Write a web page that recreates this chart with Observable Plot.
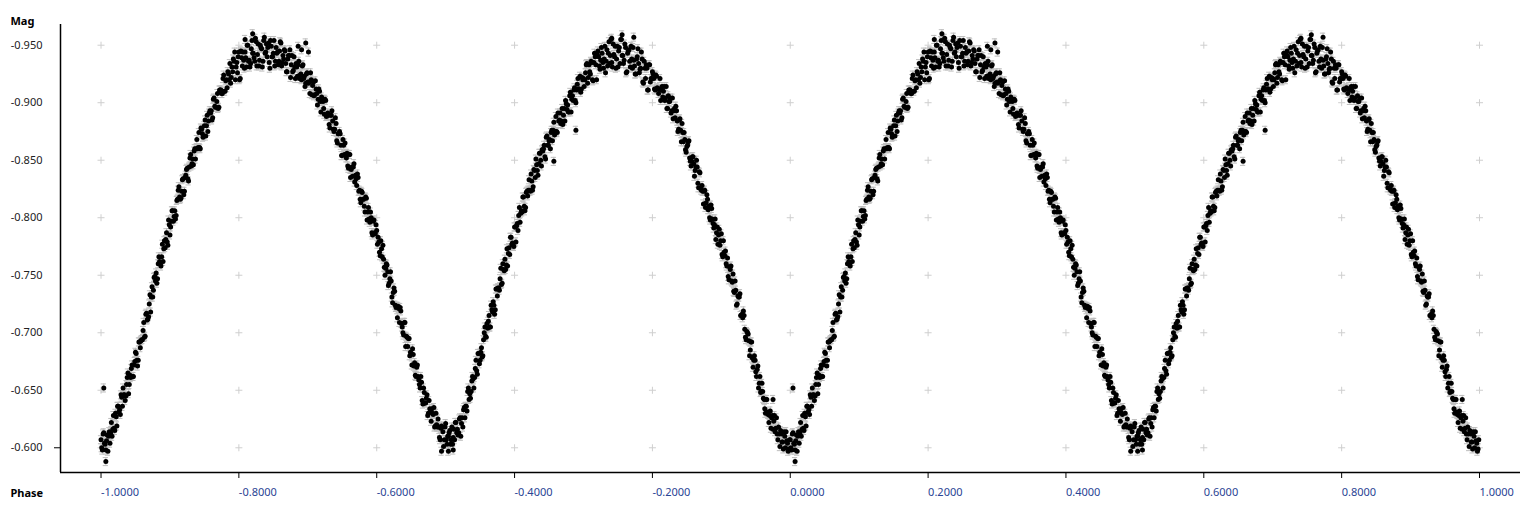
<!DOCTYPE html>
<html><head><meta charset="utf-8">
<script src="https://cdn.jsdelivr.net/npm/d3@7"></script>
<script src="https://cdn.jsdelivr.net/npm/@observablehq/plot@0.6"></script>
<style>html,body{margin:0;padding:0;background:#fff}#chart svg{display:block}</style>
</head><body><div id="chart"></div>
<script>
// Axis ticks
const xTicks = [-1, -0.8, -0.6, -0.4, -0.2, 0, 0.2, 0.4, 0.6, 0.8, 1];
const yTicks = [-0.95, -0.9, -0.85, -0.8, -0.75, -0.7, -0.65, -0.6];
const magError = 0.0035;

// Phase-folded observations [phase, magnitude], phase 0..1 (plotted again at phase-1)
const minimumI = [[0.964,-0.630],[0.966,-0.642],[0.968,-0.629],[0.970,-0.628],[0.972,-0.617],[0.974,-0.628],[0.976,-0.623],[0.978,-0.614],[0.980,-0.626],[0.982,-0.607],[0.984,-0.612],[0.986,-0.615],[0.988,-0.605],[0.990,-0.599],[0.992,-0.610],[0.994,-0.614],[0.996,-0.604],[0.998,-0.599],
[0.000,-0.607],[0.002,-0.598],[0.004,-0.613],[0.006,-0.603],[0.008,-0.606],[0.010,-0.597],[0.012,-0.614],[0.014,-0.613],[0.016,-0.610],
[0.001,-0.600],[0.003,-0.612],[0.005,-0.604],[0.007,-0.598],[0.009,-0.611],[0.011,-0.610],[0.013,-0.604],[0.015,-0.622],
[0.965,-0.642],[0.967,-0.631],[0.969,-0.622],[0.971,-0.632],[0.973,-0.626],[0.975,-0.616],[0.977,-0.628],[0.979,-0.617],[0.981,-0.612],[0.983,-0.618],[0.985,-0.601],[0.987,-0.612],[0.989,-0.605],[0.991,-0.614],[0.993,-0.600],[0.995,-0.606],[0.997,-0.597],[0.999,-0.607]];

const risingI = [[0.018,-0.628],[0.020,-0.615],[0.022,-0.627],[0.024,-0.636],[0.026,-0.631],[0.028,-0.629],[0.030,-0.644],[0.032,-0.652],[0.034,-0.646],[0.036,-0.645],
[0.038,-0.661],[0.040,-0.647],[0.042,-0.663],[0.044,-0.669],[0.046,-0.662],[0.048,-0.672],[0.050,-0.683],[0.052,-0.676],[0.054,-0.676],[0.056,-0.692],[0.058,-0.693],[0.060,-0.694],[0.062,-0.709],
[0.064,-0.697],[0.066,-0.717],[0.068,-0.712],[0.070,-0.725],[0.072,-0.718],[0.074,-0.740],[0.076,-0.737],[0.078,-0.749],[0.080,-0.752],
[0.082,-0.747],[0.084,-0.766],[0.086,-0.760],[0.088,-0.766],[0.090,-0.762],[0.092,-0.780],[0.094,-0.781],[0.096,-0.779],[0.098,-0.798],[0.100,-0.785],[0.102,-0.797],[0.104,-0.806],
[0.106,-0.801],[0.108,-0.799],[0.110,-0.815],[0.112,-0.824],[0.114,-0.818],[0.116,-0.817],[0.118,-0.833],[0.120,-0.820],[0.122,-0.835],[0.124,-0.842],[0.126,-0.834],[0.128,-0.844],[0.130,-0.855],
[0.132,-0.847],[0.134,-0.846],[0.136,-0.860],[0.138,-0.860],[0.140,-0.860],[0.142,-0.874],[0.144,-0.860],[0.146,-0.877],[0.148,-0.870],[0.150,-0.880],[0.152,-0.871],[0.154,-0.889],[0.156,-0.884],[0.158,-0.893],[0.160,-0.893],[0.162,-0.887],[0.164,-0.904],[0.166,-0.896],
[0.168,-0.901],[0.170,-0.895],[0.172,-0.911],[0.174,-0.911],[0.176,-0.908],[0.178,-0.924],[0.180,-0.910],[0.182,-0.920],[0.184,-0.927],[0.186,-0.920],[0.188,-0.917],[0.190,-0.931],[0.192,-0.938],
[0.017,-0.616],[0.019,-0.617],[0.021,-0.630],[0.023,-0.619],[0.025,-0.636],[0.027,-0.633],[0.029,-0.646],[0.031,-0.636],[0.033,-0.646],[0.035,-0.641],
[0.037,-0.655],[0.039,-0.665],[0.041,-0.655],[0.043,-0.661],[0.045,-0.672],[0.047,-0.662],[0.049,-0.675],[0.051,-0.682],[0.053,-0.671],[0.055,-0.692],[0.057,-0.687],[0.059,-0.694],[0.061,-0.702],[0.063,-0.696],
[0.065,-0.716],[0.067,-0.711],[0.069,-0.714],[0.071,-0.733],[0.073,-0.731],[0.075,-0.731],[0.077,-0.748],[0.079,-0.745],[0.081,-0.743],
[0.083,-0.760],[0.085,-0.762],[0.087,-0.758],[0.089,-0.777],[0.091,-0.773],[0.093,-0.774],[0.095,-0.787],[0.097,-0.776],[0.099,-0.794],[0.101,-0.792],[0.103,-0.806],[0.105,-0.797],
[0.107,-0.806],[0.109,-0.802],[0.111,-0.816],[0.113,-0.827],[0.115,-0.816],[0.117,-0.823],[0.119,-0.834],[0.121,-0.823],[0.123,-0.837],[0.125,-0.843],[0.127,-0.832],[0.129,-0.852],[0.131,-0.845],
[0.133,-0.851],[0.135,-0.858],[0.137,-0.851],[0.139,-0.868],[0.141,-0.861],[0.143,-0.861],[0.145,-0.878],[0.147,-0.873],[0.149,-0.871],[0.151,-0.885],[0.153,-0.880],[0.155,-0.875],[0.157,-0.891],[0.159,-0.891],[0.161,-0.885],[0.163,-0.903],[0.165,-0.897],[0.167,-0.896],
[0.169,-0.908],[0.171,-0.896],[0.173,-0.911],[0.175,-0.908],[0.177,-0.921],[0.179,-0.910],[0.181,-0.919],[0.183,-0.913],[0.185,-0.925],[0.187,-0.934],[0.189,-0.922],[0.191,-0.927],[0.193,-0.936]];

const maximumI = [[0.194,-0.944],[0.196,-0.931],[0.198,-0.926],[0.200,-0.944],[0.202,-0.921],[0.204,-0.939],[0.206,-0.944],[0.208,-0.930],[0.210,-0.939],[0.212,-0.950],[0.214,-0.936],[0.216,-0.931],[0.218,-0.947],[0.220,-0.943],[0.222,-0.939],[0.224,-0.956],[0.226,-0.932],[0.228,-0.951],[0.230,-0.937],[0.232,-0.948],[0.234,-0.931],[0.236,-0.954],[0.238,-0.943],[0.240,-0.951],[0.242,-0.948],[0.244,-0.935],[0.246,-0.954],[0.248,-0.940],[0.250,-0.943],
[0.252,-0.932],[0.254,-0.948],[0.256,-0.944],[0.258,-0.936],[0.260,-0.953],[0.262,-0.932],[0.264,-0.941],[0.266,-0.946],[0.268,-0.934],[0.270,-0.927],[0.272,-0.941],[0.274,-0.946],[0.276,-0.933],[0.278,-0.927],[0.280,-0.940],
[0.195,-0.920],[0.197,-0.935],[0.199,-0.940],[0.201,-0.920],[0.203,-0.945],[0.205,-0.932],[0.207,-0.937],[0.209,-0.944],[0.211,-0.931],[0.213,-0.950],[0.215,-0.937],[0.217,-0.934],[0.219,-0.954],[0.221,-0.943],[0.223,-0.936],[0.225,-0.953],[0.227,-0.942],[0.229,-0.932],[0.231,-0.950],[0.233,-0.947],[0.235,-0.936],[0.237,-0.957],[0.239,-0.944],[0.241,-0.940],[0.243,-0.952],[0.245,-0.930],[0.247,-0.949],[0.249,-0.940],[0.251,-0.954],
[0.253,-0.936],[0.255,-0.943],[0.257,-0.933],[0.259,-0.945],[0.261,-0.952],[0.263,-0.935],[0.265,-0.938],[0.267,-0.945],[0.269,-0.927],[0.271,-0.938],[0.273,-0.941],[0.275,-0.922],[0.277,-0.941],[0.279,-0.928],[0.281,-0.931]];

const fallingI = [[0.282,-0.921],[0.284,-0.931],[0.286,-0.933],[0.288,-0.921],[0.290,-0.925],[0.292,-0.932],[0.294,-0.921],[0.296,-0.914],[0.298,-0.925],[0.300,-0.918],[0.302,-0.918],[0.304,-0.926],[0.306,-0.907],[0.308,-0.918],[0.310,-0.907],[0.312,-0.912],
[0.314,-0.898],[0.316,-0.912],[0.318,-0.901],[0.320,-0.905],[0.322,-0.901],[0.324,-0.890],[0.326,-0.902],[0.328,-0.889],[0.330,-0.889],[0.332,-0.878],[0.334,-0.889],[0.336,-0.884],[0.338,-0.875],[0.340,-0.887],[0.342,-0.867],[0.344,-0.873],[0.346,-0.875],[0.348,-0.863],[0.350,-0.854],[0.352,-0.863],[0.354,-0.865],[0.356,-0.852],
[0.358,-0.845],[0.360,-0.855],[0.362,-0.835],[0.364,-0.844],[0.366,-0.844],[0.368,-0.831],[0.370,-0.834],[0.372,-0.838],[0.374,-0.823],[0.376,-0.816],[0.378,-0.823],[0.380,-0.816],[0.382,-0.810],[0.384,-0.818],[0.386,-0.798],[0.388,-0.809],[0.390,-0.796],[0.392,-0.800],[0.394,-0.785],[0.396,-0.798],[0.398,-0.786],[0.400,-0.789],[0.402,-0.783],
[0.404,-0.770],[0.406,-0.780],[0.408,-0.766],[0.410,-0.764],[0.412,-0.750],[0.414,-0.760],[0.416,-0.753],[0.418,-0.743],[0.420,-0.753],[0.422,-0.731],[0.424,-0.735],[0.426,-0.736],[0.428,-0.722],[0.430,-0.713],[0.432,-0.721],[0.434,-0.722],[0.436,-0.708],[0.438,-0.700],[0.440,-0.709],[0.442,-0.688],[0.444,-0.696],[0.446,-0.695],[0.448,-0.680],[0.450,-0.682],[0.452,-0.686],
[0.454,-0.671],[0.456,-0.663],[0.458,-0.670],[0.460,-0.662],[0.462,-0.655],[0.464,-0.662],[0.466,-0.641],[0.468,-0.652],[0.470,-0.639],[0.472,-0.643],[0.474,-0.628],[0.476,-0.641],[0.478,-0.631],[0.480,-0.634],[0.482,-0.629],[0.484,-0.618],[0.486,-0.630],[0.488,-0.618],[0.490,-0.618],[0.492,-0.607],[0.494,-0.619],[0.496,-0.614],
[0.283,-0.934],[0.285,-0.923],[0.287,-0.936],[0.289,-0.924],[0.291,-0.920],[0.293,-0.933],[0.295,-0.923],[0.297,-0.917],[0.299,-0.926],[0.301,-0.917],[0.303,-0.908],[0.305,-0.920],[0.307,-0.915],[0.309,-0.906],[0.311,-0.919],[0.313,-0.908],
[0.315,-0.903],[0.317,-0.910],[0.319,-0.892],[0.321,-0.903],[0.323,-0.895],[0.325,-0.903],[0.327,-0.888],[0.329,-0.891],[0.331,-0.881],[0.333,-0.889],[0.335,-0.893],[0.337,-0.877],[0.339,-0.877],[0.341,-0.882],[0.343,-0.865],[0.345,-0.873],[0.347,-0.873],[0.349,-0.854],[0.351,-0.868],[0.353,-0.855],[0.355,-0.855],[0.357,-0.856],
[0.359,-0.843],[0.361,-0.855],[0.363,-0.842],[0.365,-0.836],[0.367,-0.847],[0.369,-0.837],[0.371,-0.828],[0.373,-0.835],[0.375,-0.824],[0.377,-0.813],[0.379,-0.822],[0.381,-0.816],[0.383,-0.805],[0.385,-0.817],[0.387,-0.805],[0.389,-0.799],[0.391,-0.805],[0.393,-0.787],[0.395,-0.797],[0.397,-0.787],[0.399,-0.794],[0.401,-0.777],[0.403,-0.779],
[0.405,-0.767],[0.407,-0.773],[0.409,-0.776],[0.411,-0.757],[0.413,-0.756],[0.415,-0.759],[0.417,-0.741],[0.419,-0.747],[0.421,-0.745],[0.423,-0.726],[0.425,-0.739],[0.427,-0.724],[0.429,-0.723],[0.431,-0.723],[0.433,-0.709],[0.435,-0.719],[0.437,-0.705],[0.439,-0.698],[0.441,-0.709],[0.443,-0.697],[0.445,-0.688],[0.447,-0.695],[0.449,-0.683],[0.451,-0.672],[0.453,-0.681],
[0.455,-0.674],[0.457,-0.662],[0.459,-0.672],[0.461,-0.659],[0.463,-0.652],[0.465,-0.657],[0.467,-0.638],[0.469,-0.648],[0.471,-0.639],[0.473,-0.646],[0.475,-0.630],[0.477,-0.634],[0.479,-0.623],[0.481,-0.630],[0.483,-0.635],[0.485,-0.619],[0.487,-0.620],[0.489,-0.625],[0.491,-0.609],[0.493,-0.617],[0.495,-0.618],[0.497,-0.601]];

const minimumII = [[0.498,-0.607],[0.500,-0.621],[0.502,-0.603],[0.504,-0.610],[0.506,-0.615],[0.508,-0.607],[0.510,-0.603],[0.512,-0.616],[0.514,-0.622],[0.516,-0.613],[0.518,-0.611],[0.520,-0.625],[0.522,-0.610],[0.524,-0.626],[0.526,-0.633],[0.528,-0.626],[0.530,-0.636],
[0.499,-0.618],[0.501,-0.607],[0.503,-0.610],[0.505,-0.613],[0.507,-0.603],[0.509,-0.618],[0.511,-0.609],[0.513,-0.607],[0.515,-0.622],[0.517,-0.616],[0.519,-0.613],[0.521,-0.626],[0.523,-0.621],[0.525,-0.618],[0.527,-0.635],[0.529,-0.636],[0.531,-0.632]];

const risingII = [[0.532,-0.649],[0.534,-0.642],[0.536,-0.643],[0.538,-0.658],[0.540,-0.660],[0.542,-0.661],[0.544,-0.676],[0.546,-0.664],[0.548,-0.682],[0.550,-0.676],[0.552,-0.687],[0.554,-0.680],[0.556,-0.700],[0.558,-0.697],[0.560,-0.708],[0.562,-0.710],[0.564,-0.705],[0.566,-0.724],[0.568,-0.718],[0.570,-0.724],[0.572,-0.720],[0.574,-0.738],[0.576,-0.739],[0.578,-0.737],[0.580,-0.756],[0.582,-0.743],[0.584,-0.755],[0.586,-0.764],[0.588,-0.759],[0.590,-0.758],[0.592,-0.774],[0.594,-0.783],[0.596,-0.777],[0.598,-0.776],[0.600,-0.792],[0.602,-0.779],
[0.604,-0.795],[0.606,-0.802],[0.608,-0.796],[0.610,-0.806],[0.612,-0.818],[0.614,-0.810],[0.616,-0.809],[0.618,-0.823],[0.620,-0.824],[0.622,-0.824],[0.624,-0.838],[0.626,-0.824],[0.628,-0.842],[0.630,-0.835],[0.632,-0.846],[0.634,-0.837],[0.636,-0.856],[0.638,-0.850],[0.640,-0.859],[0.642,-0.860],[0.644,-0.853],[0.646,-0.870],[0.648,-0.863],[0.650,-0.867],[0.652,-0.860],[0.654,-0.876],[0.656,-0.876],[0.658,-0.872],[0.660,-0.888],[0.662,-0.874],
[0.664,-0.884],[0.666,-0.891],[0.668,-0.884],[0.670,-0.881],[0.672,-0.895],[0.674,-0.902],[0.676,-0.894],[0.678,-0.892],[0.680,-0.906],[0.682,-0.892],[0.684,-0.906],[0.686,-0.911],[0.688,-0.902],[0.690,-0.911],[0.692,-0.921],[0.694,-0.912],[0.696,-0.909],[0.698,-0.922],[0.700,-0.921],[0.702,-0.920],[0.704,-0.933],[0.706,-0.917],[0.708,-0.933],[0.710,-0.925],
[0.533,-0.652],[0.535,-0.647],[0.537,-0.649],[0.539,-0.662],[0.541,-0.652],[0.543,-0.669],[0.545,-0.667],[0.547,-0.682],[0.549,-0.673],[0.551,-0.683],[0.553,-0.679],[0.555,-0.694],[0.557,-0.705],[0.559,-0.696],[0.561,-0.704],[0.563,-0.715],[0.565,-0.705],[0.567,-0.720],[0.569,-0.727],[0.571,-0.716],[0.573,-0.738],[0.575,-0.732],[0.577,-0.739],[0.579,-0.747],[0.581,-0.742],[0.583,-0.760],[0.585,-0.754],[0.587,-0.755],[0.589,-0.773],[0.591,-0.769],[0.593,-0.768],[0.595,-0.783],[0.597,-0.778],[0.599,-0.775],[0.601,-0.792],[0.603,-0.793],
[0.605,-0.789],[0.607,-0.809],[0.609,-0.804],[0.611,-0.805],[0.613,-0.818],[0.615,-0.806],[0.617,-0.822],[0.619,-0.819],[0.621,-0.833],[0.623,-0.823],[0.625,-0.832],[0.627,-0.827],[0.629,-0.841],[0.631,-0.851],[0.633,-0.841],[0.635,-0.847],[0.637,-0.856],[0.639,-0.845],[0.641,-0.858],[0.643,-0.863],[0.645,-0.851],[0.647,-0.871],[0.649,-0.863],[0.651,-0.868],[0.653,-0.874],[0.655,-0.867],[0.657,-0.883],[0.659,-0.875],[0.661,-0.875],[0.663,-0.891],
[0.665,-0.885],[0.667,-0.882],[0.669,-0.895],[0.671,-0.889],[0.673,-0.884],[0.675,-0.899],[0.677,-0.898],[0.679,-0.892],[0.681,-0.909],[0.683,-0.903],[0.685,-0.902],[0.687,-0.913],[0.689,-0.900],[0.691,-0.916],[0.693,-0.912],[0.695,-0.923],[0.697,-0.912],[0.699,-0.920],[0.701,-0.914],[0.703,-0.926],[0.705,-0.934],[0.707,-0.922],[0.709,-0.927],[0.711,-0.936]];

const maximumII = [[0.712,-0.935],[0.714,-0.919],[0.716,-0.943],[0.718,-0.933],[0.720,-0.942],[0.722,-0.940],[0.724,-0.929],[0.726,-0.948],[0.728,-0.935],[0.730,-0.938],[0.732,-0.926],[0.734,-0.946],[0.736,-0.943],[0.738,-0.934],[0.740,-0.955],[0.742,-0.931],[0.744,-0.942],[0.746,-0.949],[0.748,-0.938],[0.750,-0.931],[0.752,-0.948],[0.754,-0.955],[0.756,-0.941],[0.758,-0.934],[0.760,-0.951],[0.762,-0.926],[0.764,-0.943],[0.766,-0.946],[0.768,-0.931],[0.770,-0.938],[0.772,-0.948],[0.774,-0.932],[0.776,-0.925],[0.778,-0.940],[0.780,-0.934],[0.782,-0.929],[0.784,-0.944],[0.786,-0.918],[0.788,-0.936],[0.790,-0.921],[0.792,-0.930],[0.794,-0.911],[0.796,-0.933],[0.798,-0.921],[0.800,-0.927],
[0.713,-0.920],[0.715,-0.935],[0.717,-0.940],[0.719,-0.920],[0.721,-0.945],[0.723,-0.932],[0.725,-0.937],[0.727,-0.943],[0.729,-0.930],[0.731,-0.949],[0.733,-0.936],[0.735,-0.932],[0.737,-0.953],[0.739,-0.941],[0.741,-0.935],[0.743,-0.951],[0.745,-0.940],[0.747,-0.930],[0.749,-0.949],[0.751,-0.945],[0.753,-0.934],[0.755,-0.955],[0.757,-0.941],[0.759,-0.937],[0.761,-0.948],[0.763,-0.927],[0.765,-0.945],[0.767,-0.936],[0.769,-0.949],[0.771,-0.930],[0.773,-0.937],[0.775,-0.925],[0.777,-0.938],[0.779,-0.947],[0.781,-0.926],[0.783,-0.930],[0.785,-0.938],[0.787,-0.917],[0.789,-0.930],[0.791,-0.933],[0.793,-0.911],[0.795,-0.933],[0.797,-0.918],[0.799,-0.921],[0.801,-0.925]];

const fallingII = [[0.802,-0.921],[0.804,-0.911],[0.806,-0.923],[0.808,-0.912],[0.810,-0.912],[0.812,-0.902],[0.814,-0.914],[0.816,-0.910],[0.818,-0.902],[0.820,-0.914],[0.822,-0.895],[0.824,-0.901],[0.826,-0.904],[0.828,-0.893],[0.830,-0.886],[0.832,-0.895],[0.834,-0.897],[0.836,-0.884],[0.838,-0.877],[0.840,-0.886],[0.842,-0.866],[0.844,-0.874],[0.846,-0.874],[0.848,-0.859],[0.850,-0.862],[0.852,-0.866],
[0.854,-0.852],[0.856,-0.845],[0.858,-0.853],[0.860,-0.847],[0.862,-0.841],[0.864,-0.850],[0.866,-0.830],[0.868,-0.840],[0.870,-0.826],[0.872,-0.828],[0.874,-0.812],[0.876,-0.824],[0.878,-0.813],[0.880,-0.816],[0.882,-0.810],[0.884,-0.798],[0.886,-0.808],[0.888,-0.795],[0.890,-0.794],[0.892,-0.781],[0.894,-0.792],[0.896,-0.785],[0.898,-0.776],[0.900,-0.786],[0.902,-0.766],
[0.904,-0.770],[0.906,-0.771],[0.908,-0.758],[0.910,-0.749],[0.912,-0.757],[0.914,-0.758],[0.916,-0.744],[0.918,-0.736],[0.920,-0.745],[0.922,-0.724],[0.924,-0.732],[0.926,-0.731],[0.928,-0.715],[0.930,-0.716],[0.932,-0.719],[0.934,-0.703],[0.936,-0.694],[0.938,-0.700],[0.940,-0.693],[0.942,-0.685],[0.944,-0.692],[0.946,-0.670],[0.948,-0.680],[0.950,-0.666],[0.952,-0.668],[0.954,-0.652],[0.956,-0.662],[0.958,-0.649],[0.960,-0.649],[0.962,-0.642],
[0.803,-0.912],[0.805,-0.924],[0.807,-0.913],[0.809,-0.908],[0.811,-0.921],[0.813,-0.911],[0.815,-0.905],[0.817,-0.914],[0.819,-0.904],[0.821,-0.895],[0.823,-0.906],[0.825,-0.901],[0.827,-0.891],[0.829,-0.904],[0.831,-0.893],[0.833,-0.887],[0.835,-0.893],[0.837,-0.875],[0.839,-0.885],[0.841,-0.876],[0.843,-0.882],[0.845,-0.866],[0.847,-0.868],[0.849,-0.857],[0.851,-0.863],[0.853,-0.867],
[0.855,-0.849],[0.857,-0.849],[0.859,-0.853],[0.861,-0.836],[0.863,-0.844],[0.865,-0.844],[0.867,-0.826],[0.869,-0.839],[0.871,-0.824],[0.873,-0.823],[0.875,-0.823],[0.877,-0.809],[0.879,-0.820],[0.881,-0.807],[0.883,-0.800],[0.885,-0.811],[0.887,-0.799],[0.889,-0.791],[0.891,-0.799],[0.893,-0.787],[0.895,-0.777],[0.897,-0.790],[0.899,-0.780],[0.901,-0.768],[0.903,-0.780],
[0.905,-0.767],[0.907,-0.760],[0.909,-0.765],[0.911,-0.746],[0.913,-0.755],[0.915,-0.745],[0.917,-0.751],[0.919,-0.735],[0.921,-0.737],[0.923,-0.725],[0.925,-0.731],[0.927,-0.734],[0.929,-0.715],[0.931,-0.713],[0.933,-0.715],[0.935,-0.696],[0.937,-0.701],[0.939,-0.699],[0.941,-0.680],[0.943,-0.692],[0.945,-0.678],[0.947,-0.676],[0.949,-0.676],[0.951,-0.662],[0.953,-0.671],[0.955,-0.656],[0.957,-0.648],[0.959,-0.656],[0.961,-0.643],[0.963,-0.634]];

const stragglers = [[0.004,-0.652],[0.007,-0.588],[0.975,-0.642],[0.286,-0.949],[0.291,-0.946],[0.297,-0.952],[0.301,-0.944],[0.220,-0.960],[0.209,-0.955],[0.494,-0.597],[0.504,-0.597],[0.511,-0.598],[0.657,-0.849],[0.689,-0.876],[0.741,-0.956],[0.756,-0.959],[0.773,-0.957]];

// Build the table: each observation drawn at phase and phase - 1
const folded = [].concat(minimumI, risingI, maximumI, fallingI, minimumII, risingII, maximumII, fallingII, stragglers)
  .map(([phase, mag]) => ({phase, mag}));
const obs = folded.flatMap(d => [d, {phase: d.phase - 1, mag: d.mag}]);
const gridCrosses = xTicks.flatMap(x => yTicks.map(y => ({x, y})));

const xDomain = [-1.0588, 1.0595];
const yDomain = [-0.5785, -0.968];
const capHalf = 0.0038;

const chart = Plot.plot({
  width: 1536,
  height: 512,
  marginLeft: 60,
  marginRight: 16,
  marginTop: 24,
  marginBottom: 40,
  style: {fontFamily: "'Noto Sans', 'Open Sans', sans-serif", fontSize: "11px", background: "#fff", color: "#000"},
  x: {domain: xDomain},
  y: {domain: yDomain},
  marks: [
    Plot.dot(gridCrosses, {x: "x", y: "y", symbol: "plus", r: 2.4, stroke: "#cfcfcf", strokeWidth: 1}),
    Plot.ruleX(obs, {x: "phase", y1: d => d.mag - magError, y2: d => d.mag + magError, stroke: "#bdbdbd", strokeWidth: 1}),
    Plot.ruleY(obs, {y: d => d.mag - magError, x1: d => d.phase - capHalf, x2: d => d.phase + capHalf, stroke: "#bdbdbd", strokeWidth: 1}),
    Plot.ruleY(obs, {y: d => d.mag + magError, x1: d => d.phase - capHalf, x2: d => d.phase + capHalf, stroke: "#bdbdbd", strokeWidth: 1}),
    Plot.dot(obs, {x: "phase", y: "mag", r: 2.5, fill: "#000", stroke: null}),
    Plot.ruleX([xDomain[0]], {stroke: "#000", strokeWidth: 1.5}),
    Plot.ruleY([yDomain[0]], {stroke: "#000", strokeWidth: 1.5}),
    Plot.axisX(xTicks, {tickSize: 6, tickPadding: 10, textAnchor: "start", tickFormat: d => d.toFixed(4), label: null, stroke: "#000", fill: "#2a4494"}),
    Plot.axisY(yTicks, {tickSize: 0, tickPadding: 18, tickFormat: d => d.toFixed(3), label: null, fill: "#222"}),
    Plot.axisY([-0.6], {tickSize: 6, tickFormat: () => "", label: null, stroke: "#000"}),
    Plot.text(["Mag"], {text: d => d, frameAnchor: "top-left", dx: -50, dy: -7, textAnchor: "start", fontWeight: "bold", fill: "#000"}),
    Plot.text(["Phase"], {text: d => d, frameAnchor: "bottom-left", dx: -50, dy: 24, textAnchor: "start", fontWeight: "bold", fill: "#000"})
  ]
});
document.getElementById("chart").appendChild(chart);
</script>
</body></html>
